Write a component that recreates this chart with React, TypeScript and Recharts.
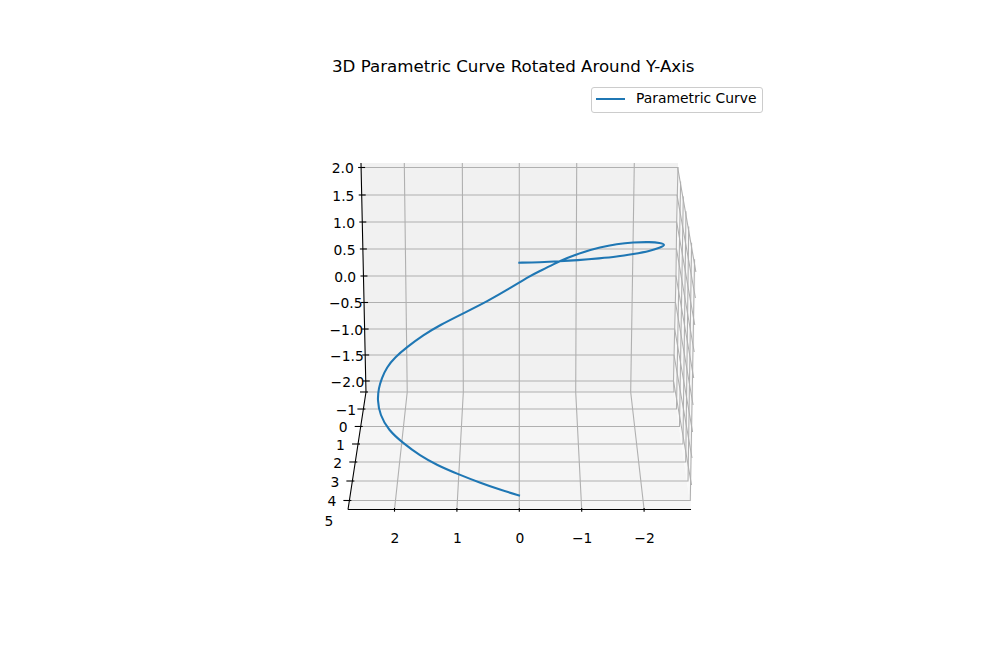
import React from "react";
import { ComposedChart, Line, Area, XAxis, YAxis, Legend } from "recharts";

const TITLE = "3D Parametric Curve Rotated Around Y-Axis";
const SERIES_NAME = "Parametric Curve";

// Parametric curve as seen in the projected plane (x-axis units, z-axis units)
const curveH = [0.016, -0.332, -0.652, -0.92, -1.293, -1.561, -1.827, -2.095, -2.255, -2.35, -2.255, -2.095, -1.827, -1.561, -1.293, -1.026, -0.76, -0.545, -0.332, -0.171, 0.149, 0.522, 0.897, 1.271, 1.538, 1.804, 1.992, 2.125, 2.205, 2.253, 2.275, 2.232, 2.099, 1.859, 1.591, 1.324, 0.978, 0.63, 0.309, -0.011];
const curveV = [0.249, 0.257, 0.275, 0.294, 0.331, 0.361, 0.412, 0.468, 0.534, 0.581, 0.624, 0.637, 0.631, 0.599, 0.537, 0.449, 0.337, 0.219, 0.094, 0, -0.23, -0.481, -0.699, -0.918, -1.105, -1.335, -1.522, -1.71, -1.916, -2.097, -2.322, -2.603, -2.884, -3.133, -3.365, -3.539, -3.713, -3.871, -4.002, -4.114];

// Tick values and labels
const xTicks = [2, 1, 0, -1, -2];
const zTickAt = [2.032, 1.517, 1.011, 0.506, 0, -0.496, -0.993, -1.479, -1.966];
const zTickLabels = ["2.0", "1.5", "1.0", "0.5", "0.0", "\u22120.5", "\u22121.0", "\u22121.5", "\u22122.0"];
const depthTickAt = [-2.172, -2.491, -2.818, -3.146, -3.483, -3.839, -4.204, -4.569];
const depthTickLabels = ["", "\u22121", "0", "1", "2", "3", "4", "5"];

// Pane outlines: [h, low, high]
const backPane = [[2.537, 2.116, 2.116], [2.457, -2.172, 2.116], [-2.479, -2.172, 2.116], [-2.543, 2.041, 2.116]];
const floorPane = [[2.745, -4.373, -4.373], [2.457, -4.373, -2.172], [-2.479, -4.373, -2.172], [-2.752, -4.373, -4.373]];
const sidePane = [[-2.479, -2.172, -2.172], [-2.543, -2.687, 2.041], [-2.752, -4.373, 0.693], [-2.832, 0.169, 0.169]];

// Grid lines: flat h, v pairs
const wallZLines = [
  [2.535, 2.032, -2.538, 2.032, -2.83, 0.075],
  [2.526, 1.517, -2.527, 1.517, -2.822, -0.412],
  [2.516, 1.011, -2.522, 1.011, -2.812, -0.918],
  [2.506, 0.506, -2.519, 0.506, -2.803, -1.423],
  [2.497, 0, -2.511, 0, -2.795, -1.91],
  [2.489, -0.496, -2.503, -0.496, -2.785, -2.416],
  [2.479, -0.993, -2.49, -0.993, -2.777, -2.921],
  [2.47, -1.479, -2.479, -1.479, -2.768, -3.408],
  [2.46, -1.966, -2.471, -1.966, -2.76, -3.914],
];
const depthLines = [
  [2.457, -2.172, -2.479, -2.172, -2.471, -1.966, -2.49, -0.993, -2.511, 0, -2.522, 1.011, -2.543, 2.041],
  [2.498, -2.491, -2.519, -2.491, -2.585, 1.77],
  [2.542, -2.818, -2.567, -2.818, -2.628, 1.491],
  [2.585, -3.146, -2.623, -3.146, -2.671, 1.212],
  [2.628, -3.483, -2.667, -3.483, -2.715, 0.925],
  [2.675, -3.839, -2.704, -3.839, -2.761, 0.624],
  [2.723, -4.204, -2.74, -4.204, -2.809, 0.313],
];
const xLines = [
  [2, -4.373, 1.796, -2.172, 1.843, 2.116],
  [1, -4.373, 0.897, -2.172, 0.913, 2.116],
  [0, -4.373, 0, -2.172, 0, 2.116],
  [-1, -4.373, -0.904, -2.172, -0.92, 2.116],
  [-2, -4.373, -1.785, -2.172, -1.843, 2.116],
];
const axisLines = [
  [2.745, -4.373, -2.752, -4.373],
  [2.537, 2.116, 2.457, -2.172, 2.745, -4.373],
];

const FONT = "'DejaVu Sans', sans-serif";
const GRID = "#b0b0b0";
const BLUE = "#1f77b4";
const FS = 13.89;

const curveData = curveH.map((h, i) => ({ h, v: curveV[i] }));
const toPoints = (flat: number[]) => {
  const out: { h: number; v: number }[] = [];
  for (let i = 0; i < flat.length; i += 2) out.push({ h: flat[i], v: flat[i + 1] });
  return out;
};
const toBand = (rows: number[][]) => rows.map(([h, lo, hi]) => ({ h, r: [lo, hi] }));

// Screen x of the slanted left edges, at a given tick row
const zEdgeX = (y: number) => 361 + ((y - 163) * 5) / 229;
const depthEdgeX = (y: number) => 366 - ((y - 392) * 18) / 117.5;

const ZTick = (p: any) => {
  const i = zTickAt.indexOf(p.payload.value);
  const ax = zEdgeX(p.y);
  return (
    <g>
      <line x1={ax - 3} x2={ax + 4} y1={p.y} y2={p.y} stroke="#000" strokeWidth={1.1} />
      <text x={ax - 18.3} y={p.y + 1} textAnchor="middle" dominantBaseline="central" fontFamily={FONT} fontSize={FS} fill="#000">
        {zTickLabels[i]}
      </text>
    </g>
  );
};

const DepthTick = (p: any) => {
  const i = depthTickAt.indexOf(p.payload.value);
  const ax = depthEdgeX(p.y);
  const isLast = i === depthTickAt.length - 1;
  return (
    <g>
      {!isLast && <line x1={ax - 6} x2={ax + 2} y1={p.y} y2={p.y} stroke="#000" strokeWidth={1.1} />}
      <text x={ax - 17.5} y={p.y + 1} textAnchor="middle" dominantBaseline="central" fontFamily={FONT} fontSize={FS} fill="#000">
        {depthTickLabels[i]}
      </text>
    </g>
  );
};

const XTick = (p: any) => (
  <g>
    <line x1={p.x} x2={p.x} y1={p.y - 19} y2={p.y - 15.3} stroke="#000" strokeWidth={1.1} />
    <text x={p.x + 0.5} y={p.y + 10.8} textAnchor="middle" dominantBaseline="central" fontFamily={FONT} fontSize={FS} fill="#000">
      {String(p.payload.value).replace("-", "\u2212")}
    </text>
  </g>
);

const LegendBox = () => (
  <div
    style={{
      boxSizing: "border-box",
      width: 172,
      height: 26,
      border: "1px solid #cccccc",
      borderRadius: 3,
      background: "#fff",
      position: "relative",
      fontFamily: FONT,
      fontSize: FS,
      color: "#000",
    }}
  >
    <div style={{ position: "absolute", left: 4, top: 9.5, width: 29, height: 2, background: BLUE }} />
    <div style={{ position: "absolute", left: 44, top: 1, lineHeight: "18px", whiteSpace: "nowrap" }}>{SERIES_NAME}</div>
  </div>
);

const gridLine = (flat: number[], key: string, axisId: string | number = 0) => (
  <Line
    key={key}
    yAxisId={axisId}
    data={toPoints(flat)}
    dataKey="v"
    type="linear"
    stroke={GRID}
    strokeWidth={1.1}
    dot={false}
    activeDot={false}
    legendType="none"
    isAnimationActive={false}
  />
);

export default function App() {
  return (
    <div style={{ position: "absolute", left: 0, top: 0, width: 1000, height: 666 }}>
      <ComposedChart
        width={1000}
        height={666}
        margin={{ top: 158.52, bottom: 138.02, left: 342.58, right: 299.74 }}
      >
        <XAxis
          xAxisId={0}
          type="number"
          dataKey="h"
          domain={[-2.9, 2.8]}
          reversed
          ticks={xTicks}
          interval={0}
          height={1}
          tickSize={0}
          tickMargin={0}
          axisLine={false}
          tick={<XTick />}
          allowDuplicatedCategory={false}
        />
        <YAxis
          yAxisId={0}
          type="number"
          domain={[-4.7, 2.2]}
          ticks={zTickAt}
          interval={0}
          width={1}
          tickSize={0}
          tickMargin={0}
          axisLine={false}
          tick={<ZTick />}
        />
        <YAxis
          yAxisId="depth"
          type="number"
          domain={[-4.7, 2.2]}
          ticks={depthTickAt}
          interval={0}
          width={1}
          tickSize={0}
          tickMargin={0}
          axisLine={false}
          tick={<DepthTick />}
        />
        <Legend
          layout="horizontal"
          align="center"
          verticalAlign="middle"
          content={<LegendBox />}
          wrapperStyle={{ position: "absolute", left: 591, top: 87, width: 172, height: 26, margin: 0 }}
        />
        {[backPane, floorPane, sidePane].map((pane, i) => (
          <Area
            key={"pane" + i}
            data={toBand(pane)}
            dataKey="r"
            type="linear"
            stroke="none"
            fill={["#f1f1f1", "#f5f5f5", "#f9f9f9"][i]}
            fillOpacity={1}
            dot={false}
            activeDot={false}
            legendType="none"
            isAnimationActive={false}
          />
        ))}
        {wallZLines.map((l, i) => gridLine(l, "z" + i))}
        {depthLines.map((l, i) => gridLine(l, "d" + i, "depth"))}
        {xLines.map((l, i) => gridLine(l, "x" + i))}
        <Line
          data={toPoints(axisLines[0])}
          dataKey="v"
          type="linear"
          stroke="#000"
          strokeWidth={1.1}
          dot={false}
          activeDot={false}
          legendType="none"
          isAnimationActive={false}
        />
        <Line
          data={toPoints(axisLines[1])}
          dataKey="v"
          type="linear"
          stroke="#000"
          strokeWidth={1.1}
          dot={false}
          activeDot={false}
          legendType="none"
          isAnimationActive={false}
        />
        <Line
          name={SERIES_NAME}
          data={curveData}
          dataKey="v"
          type="basis"
          stroke={BLUE}
          strokeWidth={2.08}
          dot={false}
          activeDot={false}
          isAnimationActive={false}
        />
        <text x={332} y={66} dominantBaseline="central" fontFamily={FONT} fontSize={16.67} fill="#000">
          {TITLE}
        </text>
      </ComposedChart>
    </div>
  );
}
